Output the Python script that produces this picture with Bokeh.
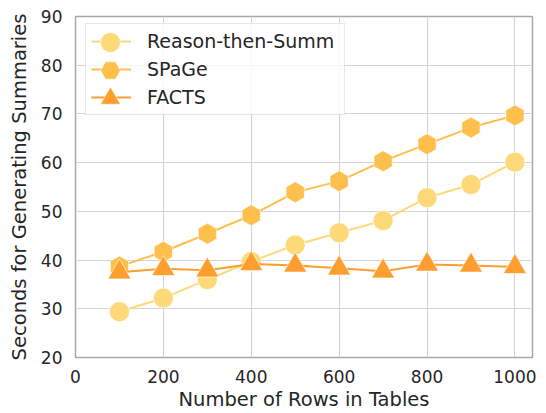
import numpy as np
from bokeh.plotting import figure
from bokeh.models import Range1d, FixedTicker, Legend, LegendItem
from bokeh.embed import file_html
from bokeh.resources import INLINE

rows = [100, 200, 300, 400, 500, 600, 700, 800, 900, 1000]
reason_then_summ = [29.4, 32.2, 36.0, 39.7, 43.1, 45.6, 48.1, 52.8, 55.5, 60.1]
spage = [38.7, 41.7, 45.4, 49.2, 53.9, 56.2, 60.3, 63.8, 67.2, 69.7]
facts = [37.5, 38.2, 37.9, 39.2, 38.9, 38.3, 37.7, 39.1, 38.9, 38.6]
x_ticks = [0, 200, 400, 600, 800, 1000]
y_ticks = [20, 30, 40, 50, 60, 70, 80, 90]
labels = ["Reason-then-Summ", "SPaGe", "FACTS"]

FONT = "DejaVu Sans"
TXT = "#262626"

p = figure(width=538, height=413, output_backend="svg", toolbar_location=None,
           x_range=Range1d(0, 1040), y_range=Range1d(20, 90),
           min_border_left=75, min_border_right=6, min_border_top=16, min_border_bottom=56)
p.background_fill_color = "white"
p.border_fill_color = "white"
p.outline_line_color = "#a8a8a8"
p.outline_line_width = 1.5

p.xaxis.ticker = FixedTicker(ticks=x_ticks)
p.yaxis.ticker = FixedTicker(ticks=y_ticks)
p.xgrid.ticker = FixedTicker(ticks=x_ticks)
p.ygrid.ticker = FixedTicker(ticks=y_ticks)
for g in (p.xgrid, p.ygrid):
    g.grid_line_color = "#d4d4d4"
    g.grid_line_width = 1.1

for ax in (p.xaxis, p.yaxis):
    ax.axis_line_color = None
    ax.major_tick_line_color = None
    ax.minor_tick_line_color = None
    ax.major_tick_out = 0
    ax.major_tick_in = 0
    ax.major_label_text_font = FONT
    ax.major_label_text_font_size = "17px"
    ax.major_label_text_color = TXT
    ax.axis_label_text_font = FONT
    ax.axis_label_text_font_size = "19.5px"
    ax.axis_label_text_font_style = "normal"
    ax.axis_label_text_color = TXT

p.xaxis.axis_label = "Number of Rows in Tables"
p.yaxis.axis_label = "Seconds for Generating Summaries"
p.xaxis.major_label_standoff = 12
p.xaxis.axis_label_standoff = 2
p.yaxis.major_label_standoff = 13
p.yaxis.axis_label_standoff = 7

c1, c2, c3 = "#fed97a", "#febf4c", "#fd9e2f"

l1 = p.line(rows, reason_then_summ, line_color=c1, line_width=2)
s1 = p.scatter(rows, reason_then_summ, marker="circle", size=20, fill_color=c1,
               line_color="white", line_width=0.6)
l2 = p.line(rows, spage, line_color=c2, line_width=2)
s2 = p.scatter(rows, spage, marker="hex", size=21, angle=np.pi / 2, fill_color=c2,
               line_color="white", line_width=0.6)
l3 = p.line(rows, facts, line_color=c3, line_width=2)
s3 = p.scatter(rows, facts, marker="triangle", size=23, fill_color=c3,
               line_color="white", line_width=0.6)

# legend box with lines and labels (location = bottom-left offset from frame, px)
legend = Legend(items=[
    LegendItem(label=labels[0], renderers=[l1]),
    LegendItem(label=labels[1], renderers=[l2]),
    LegendItem(label=labels[2], renderers=[l3]),
], location=(10, 242))
legend.margin = 0
legend.padding = 5
legend.spacing = 4
legend.glyph_width = 40
legend.glyph_height = 24
legend.label_height = 24
legend.label_width = 192
legend.label_standoff = 16
legend.label_text_font = FONT
legend.label_text_font_size = "19px"
legend.label_text_color = TXT
legend.border_line_color = "#d0d0d0"
legend.border_line_width = 1
legend.background_fill_alpha = 0.8
p.add_layout(legend)

# full-size legend markers, one small legend per series
for rnd, off in ((s1, 290), (s2, 262), (s3, 234)):
    ml = Legend(items=[LegendItem(label=" ", renderers=[rnd])], location=(10, off))
    ml.margin = 0
    ml.padding = 0
    ml.spacing = 0
    ml.glyph_width = 50
    ml.glyph_height = 50
    ml.label_height = 50
    ml.label_width = 0
    ml.label_standoff = 0
    ml.label_text_alpha = 0
    ml.label_text_font_size = "10px"
    ml.border_line_color = None
    ml.background_fill_alpha = 0
    p.add_layout(ml)

open("out.html", "w").write(file_html(p, INLINE))
